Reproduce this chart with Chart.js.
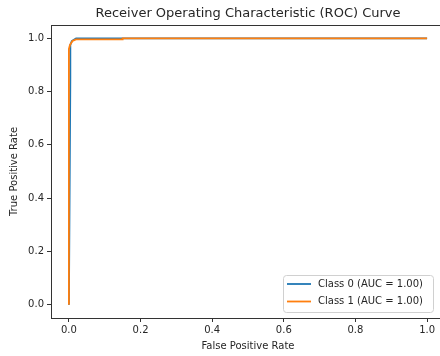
<!DOCTYPE html>
<html>
<head>
<meta charset="utf-8">
<script src="https://cdn.jsdelivr.net/npm/chart.js@4/dist/chart.umd.min.js"></script>
<style>
  html, body { margin: 0; padding: 0; background: #fff; overflow: hidden; }
</style>
</head>
<body>
<canvas id="roc" width="460" height="356"></canvas>
<script>
'use strict';

// ROC points
const class0Fpr = [0, 0.004, 0.004, 0.008, 0.02, 0.15, 1.0];
const class0Tpr = [0, 0.85, 0.975, 0.99, 1.0, 1.0, 1.0];
const class1Fpr = [0, 0, 0.003, 0.01, 0.02, 0.15, 0.15, 1.0];
const class1Tpr = [0, 0.96, 0.975, 0.99, 0.996, 0.996, 1.0, 1.0];

const seriesLabels = ['Class 0 (AUC = 1.00)', 'Class 1 (AUC = 1.00)'];
const xTicks = [0, 0.2, 0.4, 0.6, 0.8, 1.0];
const yTicks = [0, 0.2, 0.4, 0.6, 0.8, 1.0];
const chartTitle = 'Receiver Operating Characteristic (ROC) Curve';

const FONT = 'DejaVu Sans';
const INK = '#262626';

const toPoints = (xs, ys) => xs.map((x, i) => ({ x: x, y: ys[i] }));

// title over the plot, top spine and legend box inside the plot (lower right)
const frameAndLegend = {
  id: 'frameAndLegend',
  afterDatasetsDraw(chart) {
    const ctx = chart.ctx;
    const a = chart.chartArea;
    ctx.save();
    ctx.strokeStyle = '#333';
    ctx.lineWidth = 1;
    ctx.beginPath();
    ctx.moveTo(a.left, a.top + 0.5);
    ctx.lineTo(a.right, a.top + 0.5);
    ctx.moveTo(a.right - 0.5, a.top);
    ctx.lineTo(a.right - 0.5, a.bottom);
    ctx.stroke();

    ctx.fillStyle = INK;
    ctx.font = '13px ' + FONT;
    ctx.textAlign = 'center';
    ctx.textBaseline = 'middle';
    ctx.fillText(chartTitle, (a.left + a.right) / 2, 14);

    const bw = 150, bh = 37;
    const bx = a.right - 12 - bw;
    const by = a.bottom - 6 - bh;
    ctx.fillStyle = 'rgba(255,255,255,0.85)';
    ctx.strokeStyle = '#d0d0d0';
    ctx.beginPath();
    ctx.roundRect(bx + 0.5, by + 0.5, bw, bh, 3);
    ctx.fill();
    ctx.stroke();

    ctx.font = '10px ' + FONT;
    ctx.textAlign = 'left';
    chart.data.datasets.forEach((ds, i) => {
      const y = by + 9 + i * 17.5;
      ctx.strokeStyle = ds.borderColor;
      ctx.lineWidth = 1.8;
      ctx.beginPath();
      ctx.moveTo(bx + 4, y);
      ctx.lineTo(bx + 28, y);
      ctx.stroke();
      ctx.fillStyle = INK;
      ctx.fillText(ds.label, bx + 35, y);
    });
    ctx.restore();
  }
};

new Chart(document.getElementById('roc').getContext('2d'), {
  type: 'scatter',
  data: {
    datasets: [
      {
        label: seriesLabels[0],
        data: toPoints(class0Fpr, class0Tpr),
        showLine: true,
        borderColor: '#1f77b4',
        backgroundColor: '#1f77b4',
        borderWidth: 1.8,
        pointRadius: 0,
        tension: 0,
        order: 2,
      },
      {
        label: seriesLabels[1],
        data: toPoints(class1Fpr, class1Tpr),
        showLine: true,
        borderColor: '#ff7f0e',
        backgroundColor: '#ff7f0e',
        borderWidth: 1.8,
        pointRadius: 0,
        tension: 0,
        order: 1,
      },
    ],
  },
  options: {
    responsive: false,
    animation: false,
    layout: { padding: { left: 0, right: 15, top: 25, bottom: 0 } },
    plugins: {
      legend: { display: false },
      tooltip: { enabled: false },
      title: { display: false },
    },
    scales: {
      x: {
        type: 'linear',
        min: -0.05,
        max: 1.05,
        afterBuildTicks: scale => {
          scale.ticks = xTicks.map(v => ({ value: v }));
        },
        afterFit: scale => {
          scale.height = 38;
        },
        grid: { drawOnChartArea: false, tickLength: 4, color: '#333', tickColor: '#333' },
        border: { display: true, color: '#333', width: 1 },
        ticks: {
          color: INK,
          font: { family: FONT, size: 10 },
          padding: 2,
          maxRotation: 0,
          callback: v => v.toFixed(1),
        },
        title: {
          display: true,
          text: 'False Positive Rate',
          color: INK,
          font: { family: FONT, size: 10 },
          padding: { top: 0, bottom: 4 },
        },
      },
      y: {
        type: 'linear',
        min: -0.05,
        max: 1.05,
        afterBuildTicks: scale => {
          scale.ticks = yTicks.map(v => ({ value: v }));
        },
        afterFit: scale => {
          scale.width = 51;
        },
        grid: { drawOnChartArea: false, tickLength: 4, color: '#333', tickColor: '#333' },
        border: { display: true, color: '#333', width: 1 },
        ticks: {
          color: INK,
          font: { family: FONT, size: 10 },
          padding: 3,
          callback: v => v.toFixed(1),
        },
        title: {
          display: true,
          text: 'True Positive Rate',
          color: INK,
          font: { family: FONT, size: 10 },
          padding: { top: 8, bottom: 0 },
        },
      },
    },
  },
  plugins: [frameAndLegend],
});
</script>
</body>
</html>
